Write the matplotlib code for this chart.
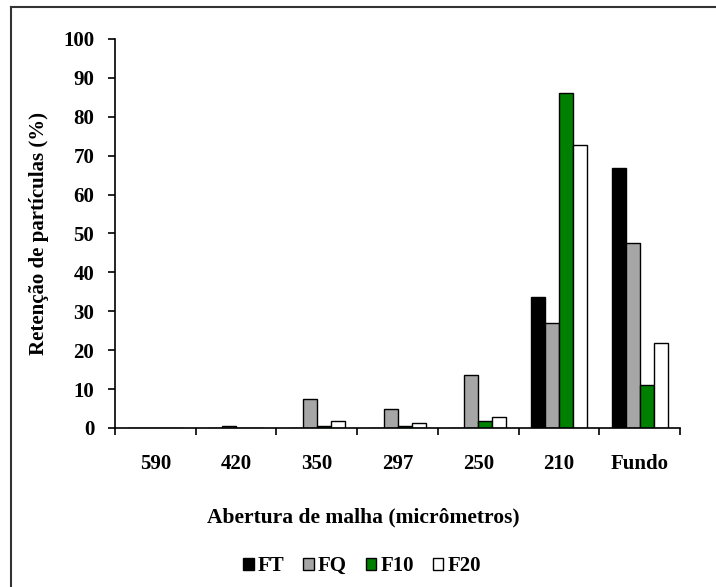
import matplotlib
matplotlib.use("Agg")
import matplotlib.pyplot as plt
import numpy as np
from matplotlib.lines import Line2D

categories = ["590", "420", "350", "297", "250", "210", "Fundo"]
series_names = ["FT", "FQ", "F10", "F20"]
ft = [0, 0, 0, 0, 0, 33.7, 66.8]
fq = [0, 0.5, 7.4, 4.8, 13.6, 27.0, 47.5]
f10 = [0, 0, 0.6, 0.5, 1.7, 86.1, 11.0]
f20 = [0, 0, 1.7, 1.2, 2.8, 72.7, 21.8]
colors = ["#000000", "#a6a6a6", "#008000", "#ffffff"]

plt.rcParams['font.family'] = ['Liberation Serif', 'DejaVu Serif']
plt.rcParams['font.weight'] = 'bold'

fig = plt.figure(figsize=(7.16, 5.87), dpi=100)
ax = fig.add_axes([0.1606, 0.2709, 0.7894, 0.6627])

x = np.arange(len(categories))
width = 0.174
for i, (vals, c, name) in enumerate(zip([ft, fq, f10, f20], colors, series_names)):
    ax.bar(x + (i - 1.5) * width, vals, width, color=c, edgecolor='black',
           linewidth=1.0, label=name)

ax.set_xlim(-0.5, len(categories) - 0.5)
ax.set_ylim(0, 100)
ax.set_yticks(range(0, 101, 10))
ax.set_xticks(np.arange(-0.5, len(categories), 1.0))
ax.set_xticklabels([])
ax.set_xticks(x, minor=True)
ax.set_xticklabels(categories, minor=True, fontsize=15, fontweight='bold')
ax.tick_params(axis='x', which='minor', length=0, pad=19)
ax.tick_params(axis='x', which='major', length=5, width=1.2, direction='out')
ax.tick_params(axis='y', length=5, width=1.2, direction='out', labelsize=15, pad=10)
for lbl in ax.get_yticklabels():
    lbl.set_fontweight('bold')
ax.spines['top'].set_visible(False)
ax.spines['right'].set_visible(False)
ax.spines['left'].set_linewidth(1.2)
ax.spines['bottom'].set_linewidth(1.2)

ax.set_ylabel("Retenção de partículas (%)", fontsize=15, fontweight='bold', labelpad=10)
fig.text(363 / 716, 1 - 517 / 587, "Abertura de malha (micrômetros)",
         ha='center', va='center', fontsize=15.5, fontweight='bold')

handles, labels = ax.get_legend_handles_labels()
fig.legend(handles, labels, loc='center', bbox_to_anchor=(362 / 716, 1 - 566 / 587),
           ncol=4, frameon=False, fontsize=15, handlelength=0.5, handleheight=0.5,
           handletextpad=0.2, columnspacing=0.9)

# outer frame (only top and left edges visible in the original)
fig.add_artist(Line2D([11 / 716, 11 / 716], [0, 1 - 7 / 587], transform=fig.transFigure,
                      color='#333333', linewidth=1.5))
fig.add_artist(Line2D([11 / 716, 1], [1 - 7 / 587, 1 - 7 / 587], transform=fig.transFigure,
                      color='#333333', linewidth=1.5))

fig.savefig("out.png", dpi=100)
